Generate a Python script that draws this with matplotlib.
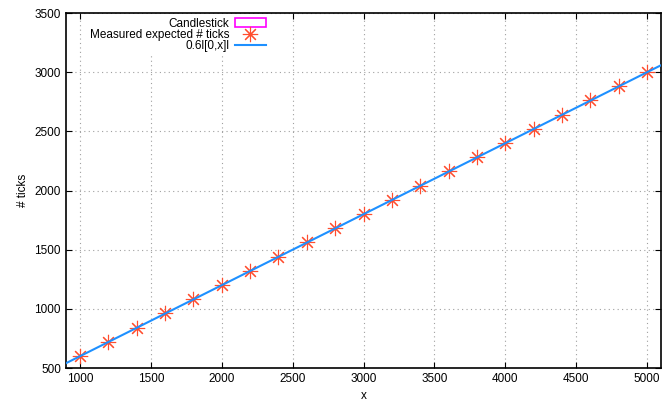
import matplotlib
matplotlib.use("Agg")
import matplotlib.pyplot as plt
from matplotlib.patches import Patch
from matplotlib.lines import Line2D
import numpy as np

plt.rcParams['font.family'] = ['Liberation Sans', 'DejaVu Sans']

x_vals = [1000, 1200, 1400, 1600, 1800, 2000, 2200, 2400, 2600, 2800, 3000,
          3200, 3400, 3600, 3800, 4000, 4200, 4400, 4600, 4800, 5000]
measured = [602, 721, 841, 962, 1081, 1201, 1322, 1441, 1562, 1681, 1801,
            1922, 2042, 2161, 2281, 2402, 2522, 2641, 2762, 2881, 3001]
cs_low = [585, 705, 825, 945, 1065, 1185, 1305, 1425, 1545, 1665, 1785,
          1905, 2025, 2145, 2265, 2385, 2505, 2625, 2745, 2865, 2985]
cs_high = [620, 740, 860, 980, 1100, 1220, 1340, 1460, 1580, 1700, 1820,
           1940, 2060, 2180, 2300, 2420, 2540, 2660, 2780, 2900, 3020]
line_x = [900, 5100]
slope = 0.6

fig = plt.figure(figsize=(6.72, 4.08), dpi=100)
ax = fig.add_axes([0.098, 0.098, 0.886, 0.870])

star = (8, 2, 0)
# candlesticks
ax.vlines(x_vals, cs_low, cs_high, color='#ff00ff', lw=1.0, zorder=3)
ax.plot(x_vals, measured, linestyle='none', marker=star, markersize=11,
        markeredgewidth=0.8, color='#ff4d2e', zorder=4)
lx = np.array(line_x)
ax.plot(lx, slope * lx, color='#1e90ff', lw=1.5, zorder=5)

ax.set_xlim(900, 5100)
ax.set_ylim(500, 3500)
ax.set_xticks(range(1000, 5001, 500))
ax.set_yticks(range(500, 3501, 500))
ax.grid(True, color='#a0a0a0', linestyle=(0, (1, 3)), lw=0.8)
ax.tick_params(direction='in', top=True, right=True, labelsize=8.5, length=4)
for s in ax.spines.values():
    s.set_linewidth(1.2)
ax.set_xlabel('x', fontsize=8.5)
ax.set_ylabel('# ticks', fontsize=8.5)

handles = [Patch(facecolor='none', edgecolor='#ff00ff', lw=1.2),
           Line2D([], [], linestyle='none', marker=star, markersize=11,
                  markeredgewidth=0.8, color='#ff4d2e'),
           Line2D([], [], color='#1e90ff', lw=1.5)]
labels = ['Candlestick', 'Measured expected # ticks', '0.6l[0,x]l']
leg = ax.legend(handles, labels, loc='upper left', bbox_to_anchor=(0.024, 1.014),
                markerfirst=False, frameon=True, fontsize=8.5,
                handlelength=2.6, handletextpad=0.5, labelspacing=-0.05,
                borderpad=0.3)
leg.get_frame().set_edgecolor('none')
leg.get_frame().set_facecolor('white')
leg.get_frame().set_alpha(1)
for t in leg.get_texts():
    t.set_ha('right')
leg._legend_box.align = 'right'

fig.savefig('out.png', dpi=100)
